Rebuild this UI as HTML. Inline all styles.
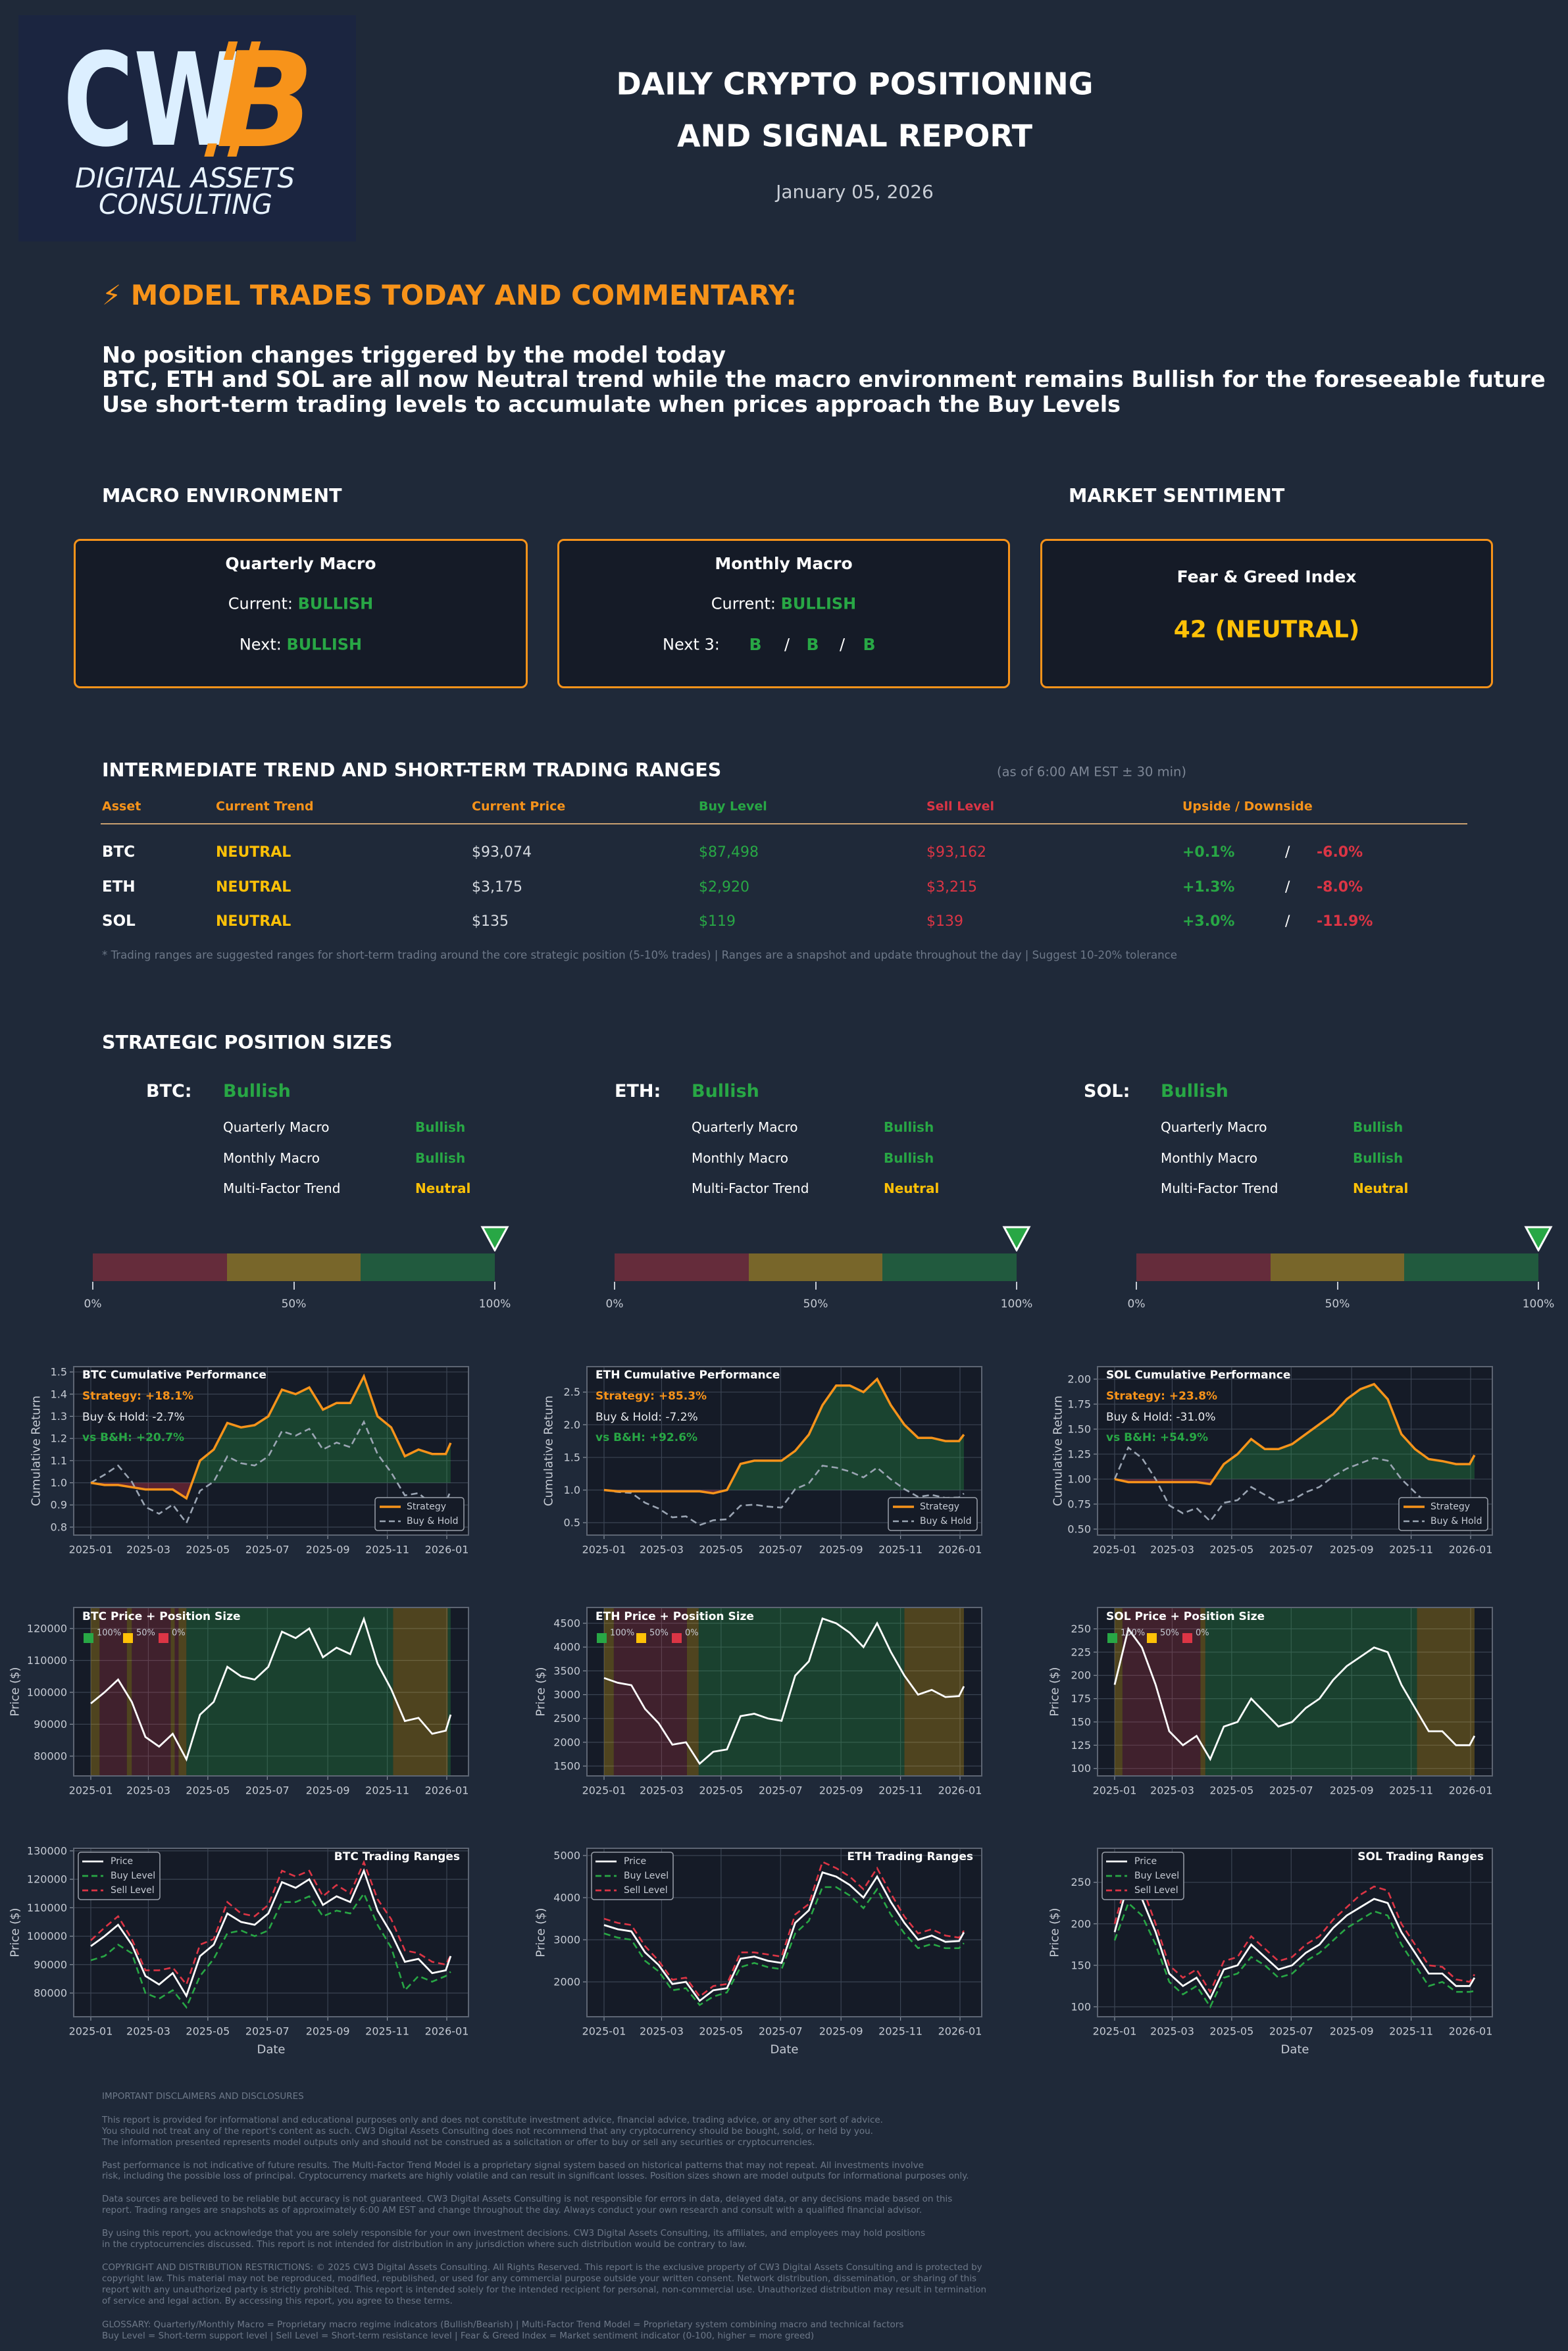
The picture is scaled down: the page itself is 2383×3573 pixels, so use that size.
<!DOCTYPE html>
<html><head><meta charset="utf-8">
<style>
html,body{margin:0;padding:0}
body{width:2383px;height:3573px;background:#1f2939;position:relative;overflow:hidden;font-family:"DejaVu Sans","Liberation Sans",sans-serif;color:#fff}
.t{position:absolute;white-space:nowrap;transform:translateY(-50%);line-height:1.2}
.c{position:absolute;white-space:nowrap;transform:translate(-50%,-50%);line-height:1.2}
.b{font-weight:bold}
.g{color:#28a745}.y{color:#ffc107}.o{color:#f7931a}.r{color:#dc3545}
.box{position:absolute;border:3px solid #f7931a;border-radius:10px;background:#151b27;box-sizing:border-box}
.disc{position:absolute;left:155px;font-size:13.5px;color:#6d7888;white-space:nowrap;transform:translateY(-50%)}
</style></head>
<body>

<svg width="513" height="344" style="position:absolute;left:28px;top:23px" xmlns="http://www.w3.org/2000/svg">
  <rect x="0" y="0" width="513" height="344" fill="#1b2540"/>
  <text x="68" y="197" font-family="DejaVu Sans, sans-serif" font-weight="bold" font-size="195" fill="#dcefff" textLength="268" lengthAdjust="spacingAndGlyphs">CW</text>
  <rect x="330" y="40" width="14" height="28" fill="#f7931a" transform="skewX(-15)"/>
  <rect x="365" y="40" width="14" height="28" fill="#f7931a" transform="skewX(-15)"/>
  <rect x="340" y="195" width="14" height="20" fill="#f7931a" transform="skewX(-15)"/>
  <rect x="375" y="195" width="14" height="20" fill="#f7931a" transform="skewX(-15)"/>
  <text x="300" y="199" font-family="DejaVu Sans, sans-serif" font-weight="bold" font-style="italic" font-size="200" fill="#f7931a" textLength="150" lengthAdjust="spacingAndGlyphs">B</text>
  <text x="86" y="262" font-family="DejaVu Sans, sans-serif" font-style="italic" font-size="42" fill="#e8f3ff" textLength="334" lengthAdjust="spacingAndGlyphs">DIGITAL ASSETS</text>
  <text x="122" y="302" font-family="DejaVu Sans, sans-serif" font-style="italic" font-size="42" fill="#e8f3ff" textLength="264" lengthAdjust="spacingAndGlyphs">CONSULTING</text>
</svg>

<div class="c b" style="left:1299px;top:128px;font-size:46px">DAILY CRYPTO POSITIONING</div>
<div class="c b" style="left:1299px;top:207px;font-size:46px">AND SIGNAL REPORT</div>
<div class="c" style="left:1299px;top:292px;font-size:28px;color:#c9ced6">January 05, 2026</div>

<div class="t b o" style="left:155px;top:449px;font-size:41.7px">⚡ MODEL TRADES TODAY AND COMMENTARY:</div>
<div class="t b" style="left:155px;top:540px;font-size:33.4px">No position changes triggered by the model today</div>
<div class="t b" style="left:155px;top:577px;font-size:33.4px">BTC, ETH and SOL are all now Neutral trend while the macro environment remains Bullish for the foreseeable future</div>
<div class="t b" style="left:155px;top:615px;font-size:33.4px">Use short-term trading levels to accumulate when prices approach the Buy Levels</div>

<div class="t b" style="left:155px;top:754px;font-size:28.5px">MACRO ENVIRONMENT</div>
<div class="t b" style="left:1624px;top:754px;font-size:28.5px">MARKET SENTIMENT</div>

<div class="box" style="left:112px;top:819px;width:690px;height:227px"></div>
<div class="c b" style="left:457px;top:857px;font-size:25px">Quarterly Macro</div>
<div class="c" style="left:457px;top:918px;font-size:24px">Current: <span class="b g">BULLISH</span></div>
<div class="c" style="left:457px;top:980px;font-size:24px">Next: <span class="b g">BULLISH</span></div>

<div class="box" style="left:847px;top:819px;width:688px;height:227px"></div>
<div class="c b" style="left:1191px;top:857px;font-size:25px">Monthly Macro</div>
<div class="c" style="left:1191px;top:918px;font-size:24px">Current: <span class="b g">BULLISH</span></div>
<div class="t" style="left:1007px;top:980px;font-size:24px">Next 3:</div>
<div class="c b g" style="left:1148px;top:980px;font-size:25px">B</div>
<div class="c" style="left:1196px;top:980px;font-size:24px">/</div>
<div class="c b g" style="left:1235px;top:980px;font-size:25px">B</div>
<div class="c" style="left:1280px;top:980px;font-size:24px">/</div>
<div class="c b g" style="left:1321px;top:980px;font-size:25px">B</div>

<div class="box" style="left:1581px;top:819px;width:688px;height:227px"></div>
<div class="c b" style="left:1925px;top:877px;font-size:25px">Fear &amp; Greed Index</div>
<div class="c b y" style="left:1925px;top:957px;font-size:36px">42 (NEUTRAL)</div>

<div class="t b" style="left:155px;top:1171px;font-size:28.5px">INTERMEDIATE TREND AND SHORT-TERM TRADING RANGES</div>
<div class="t" style="left:1515px;top:1173px;font-size:19.5px;color:#7d8695">(as of 6:00 AM EST ± 30 min)</div>

<div class="t b o" style="left:155px;top:1226px;font-size:19px">Asset</div>
<div class="t b o" style="left:328px;top:1226px;font-size:19px">Current Trend</div>
<div class="t b o" style="left:717px;top:1226px;font-size:19px">Current Price</div>
<div class="t b g" style="left:1062px;top:1226px;font-size:19px">Buy Level</div>
<div class="t b r" style="left:1408px;top:1226px;font-size:19px">Sell Level</div>
<div class="t b o" style="left:1797px;top:1226px;font-size:19px">Upside / Downside</div>
<div style="position:absolute;left:153px;top:1251px;width:2077px;height:2px;background:#c9a070"></div>

<div>
<div class="t b" style="left:155px;top:1296px;font-size:23px">BTC</div>
<div class="t b y" style="left:328px;top:1296px;font-size:22px">NEUTRAL</div>
<div class="t" style="left:717px;top:1296px;font-size:22px;color:#d6dae0">$93,074</div>
<div class="t g" style="left:1062px;top:1296px;font-size:22px">$87,498</div>
<div class="t r" style="left:1408px;top:1296px;font-size:22px">$93,162</div>
<div class="t b g" style="left:1797px;top:1296px;font-size:22px">+0.1%</div>
<div class="t" style="left:1953px;top:1296px;font-size:22px">/</div>
<div class="t b r" style="left:2001px;top:1296px;font-size:22px">-6.0%</div>
</div>
<div>
<div class="t b" style="left:155px;top:1349px;font-size:23px">ETH</div>
<div class="t b y" style="left:328px;top:1349px;font-size:22px">NEUTRAL</div>
<div class="t" style="left:717px;top:1349px;font-size:22px;color:#d6dae0">$3,175</div>
<div class="t g" style="left:1062px;top:1349px;font-size:22px">$2,920</div>
<div class="t r" style="left:1408px;top:1349px;font-size:22px">$3,215</div>
<div class="t b g" style="left:1797px;top:1349px;font-size:22px">+1.3%</div>
<div class="t" style="left:1953px;top:1349px;font-size:22px">/</div>
<div class="t b r" style="left:2001px;top:1349px;font-size:22px">-8.0%</div>
</div>
<div>
<div class="t b" style="left:155px;top:1401px;font-size:23px">SOL</div>
<div class="t b y" style="left:328px;top:1401px;font-size:22px">NEUTRAL</div>
<div class="t" style="left:717px;top:1401px;font-size:22px;color:#d6dae0">$135</div>
<div class="t g" style="left:1062px;top:1401px;font-size:22px">$119</div>
<div class="t r" style="left:1408px;top:1401px;font-size:22px">$139</div>
<div class="t b g" style="left:1797px;top:1401px;font-size:22px">+3.0%</div>
<div class="t" style="left:1953px;top:1401px;font-size:22px">/</div>
<div class="t b r" style="left:2001px;top:1401px;font-size:22px">-11.9%</div>
</div>
<div class="t" style="left:155px;top:1452px;font-size:16.6px;color:#6d7888">* Trading ranges are suggested ranges for short-term trading around the core strategic position (5-10% trades)  |  Ranges are a snapshot and update throughout the day  |  Suggest 10-20% tolerance</div>

<div class="t b" style="left:155px;top:1585px;font-size:28.5px">STRATEGIC POSITION SIZES</div>

<div id="positions"></div>

<svg id="charts" width="2383" height="3573" style="position:absolute;left:0;top:0" xmlns="http://www.w3.org/2000/svg"></svg>

<div>
<div class="disc" style="top:3186px">IMPORTANT DISCLAIMERS AND DISCLOSURES</div>
<div class="disc" style="top:3222px">This report is provided for informational and educational purposes only and does not constitute investment advice, financial advice, trading advice, or any other sort of advice.</div>
<div class="disc" style="top:3239px">You should not treat any of the report's content as such. CW3 Digital Assets Consulting does not recommend that any cryptocurrency should be bought, sold, or held by you.</div>
<div class="disc" style="top:3256px">The information presented represents model outputs only and should not be construed as a solicitation or offer to buy or sell any securities or cryptocurrencies.</div>
<div class="disc" style="top:3291px">Past performance is not indicative of future results. The Multi-Factor Trend Model is a proprietary signal system based on historical patterns that may not repeat. All investments involve</div>
<div class="disc" style="top:3307px">risk, including the possible loss of principal. Cryptocurrency markets are highly volatile and can result in significant losses. Position sizes shown are model outputs for informational purposes only.</div>
<div class="disc" style="top:3342px">Data sources are believed to be reliable but accuracy is not guaranteed. CW3 Digital Assets Consulting is not responsible for errors in data, delayed data, or any decisions made based on this</div>
<div class="disc" style="top:3359px">report. Trading ranges are snapshots as of approximately 6:00 AM EST and change throughout the day. Always conduct your own research and consult with a qualified financial advisor.</div>
<div class="disc" style="top:3394px">By using this report, you acknowledge that you are solely responsible for your own investment decisions. CW3 Digital Assets Consulting, its affiliates, and employees may hold positions</div>
<div class="disc" style="top:3411px">in the cryptocurrencies discussed. This report is not intended for distribution in any jurisdiction where such distribution would be contrary to law.</div>
<div class="disc" style="top:3446px">COPYRIGHT AND DISTRIBUTION RESTRICTIONS: © 2025 CW3 Digital Assets Consulting. All Rights Reserved. This report is the exclusive property of CW3 Digital Assets Consulting and is protected by</div>
<div class="disc" style="top:3463px">copyright law. This material may not be reproduced, modified, republished, or used for any commercial purpose outside your written consent. Network distribution, dissemination, or sharing of this</div>
<div class="disc" style="top:3480px">report with any unauthorized party is strictly prohibited. This report is intended solely for the intended recipient for personal, non-commercial use. Unauthorized distribution may result in termination</div>
<div class="disc" style="top:3497px">of service and legal action. By accessing this report, you agree to these terms.</div>
<div class="disc" style="top:3533px">GLOSSARY: Quarterly/Monthly Macro = Proprietary macro regime indicators (Bullish/Bearish) | Multi-Factor Trend Model = Proprietary system combining macro and technical factors</div>
<div class="disc" style="top:3550px">Buy Level = Short-term support level | Sell Level = Short-term resistance level | Fear &amp; Greed Index = Market sentiment indicator (0-100, higher = more greed)</div>
</div>

<script>
// ---- data ----
const days = [0,14,28,42,56,70,84,98,112,126,140,154,168,182,196,210,224,238,252,266,280,294,308,322,336,350,364,369];
const xTickLabels = ['2025-01','2025-03','2025-05','2025-07','2025-09','2025-11','2026-01'];
const xTickDays = [0,59,120,181,243,304,365];

const btcPrice = [96500,100000,104000,97000,86000,83000,87000,79000,93000,97000,108000,105000,104000,108000,119000,117000,120000,111000,114000,112000,123000,109000,101000,91000,92000,87000,88000,93000];
const btcBuy = [91500,93000,97000,94000,80000,78000,81000,75000,86000,92000,101000,102000,100000,102000,112000,112000,114000,107000,109000,108000,115000,104000,96000,81000,86000,84000,86000,87500];
const btcSell = [98500,103000,107000,99000,88000,88000,89000,83000,97000,99000,112000,108000,107000,111000,123000,121000,123000,114000,118000,115000,126000,113000,106000,95000,94000,91000,90000,93200];
const btcStrategy = [1.0,0.99,0.99,0.98,0.97,0.97,0.97,0.93,1.10,1.15,1.27,1.25,1.26,1.30,1.42,1.40,1.43,1.33,1.36,1.36,1.48,1.30,1.25,1.12,1.15,1.13,1.13,1.18];

const ethPrice = [3350,3250,3200,2700,2400,1950,2000,1550,1800,1850,2550,2600,2500,2450,3400,3700,4600,4500,4300,4000,4500,3900,3400,3000,3100,2950,2970,3175];
const ethBuy = [3150,3050,3000,2500,2250,1800,1850,1450,1650,1750,2350,2450,2350,2300,3150,3450,4250,4250,4050,3750,4200,3600,3150,2800,2900,2800,2800,2920];
const ethSell = [3500,3400,3350,2850,2500,2050,2100,1650,1900,1950,2700,2700,2650,2600,3600,3850,4850,4700,4500,4200,4700,4100,3550,3150,3250,3100,3050,3215];
const ethStrategy = [1.0,0.98,0.98,0.98,0.98,0.98,0.98,0.98,0.95,1.0,1.4,1.45,1.45,1.45,1.6,1.85,2.3,2.6,2.6,2.5,2.7,2.3,2.0,1.8,1.8,1.75,1.75,1.85];

const solPrice = [190,250,230,190,140,125,135,110,145,150,175,160,145,150,165,175,195,210,220,230,225,190,165,140,140,125,125,135];
const solBuy = [180,225,210,175,130,115,125,100,135,140,160,150,135,140,155,165,180,195,205,215,210,175,150,125,130,118,118,119];
const solSell = [200,260,245,200,150,135,145,118,155,160,185,170,155,160,175,185,205,220,235,245,240,200,175,150,148,133,130,139];
const solStrategy = [1.0,0.97,0.97,0.97,0.97,0.97,0.97,0.95,1.15,1.25,1.40,1.30,1.30,1.35,1.45,1.55,1.65,1.80,1.90,1.95,1.80,1.45,1.30,1.20,1.18,1.15,1.15,1.24];

const btcRegionStart = [0,9,37,42,82,86,90,98,310,366];
const btcRegionEnd   = [9,37,42,82,86,90,98,310,366,369];
const btcRegionState = ['y','r','y','r','y','r','y','g','y','g'];
const ethRegionStart = [0,10,85,97,308];
const ethRegionEnd   = [10,85,97,308,369];
const ethRegionState = ['y','r','y','g','y'];
const solRegionStart = [0,8,88,93,310];
const solRegionEnd   = [8,88,93,310,369];
const solRegionState = ['y','r','y','g','y'];

const btcCumTicks = [0.8,0.9,1.0,1.1,1.2,1.3,1.4,1.5];
const ethCumTicks = [0.5,1.0,1.5,2.0,2.5];
const solCumTicks = [0.50,0.75,1.00,1.25,1.50,1.75,2.00];
const btcPriceTicks = [80000,90000,100000,110000,120000];
const ethPriceTicks = [1500,2000,2500,3000,3500,4000,4500];
const solPriceTicks = [100,125,150,175,200,225,250];
const btcRangeTicks = [80000,90000,100000,110000,120000,130000];
const ethRangeTicks = [2000,3000,4000,5000];
const solRangeTicks = [100,150,200,250];

const assetNames = ['BTC','ETH','SOL'];
const strategyLabels = ['Strategy: +18.1%','Strategy: +85.3%','Strategy: +23.8%'];
const bhLabels = ['Buy & Hold: -2.7%','Buy & Hold: -7.2%','Buy & Hold: -31.0%'];
const vsLabels = ['vs B&H: +20.7%','vs B&H: +92.6%','vs B&H: +54.9%'];
const gaugeValues = [100,100,100];

// ---- layout ----
const assets = [
 {name:'BTC',x0:112,lblX:[55,23,23],price:btcPrice,buy:btcBuy,sell:btcSell,strat:btcStrategy,rs:btcRegionStart,re:btcRegionEnd,rst:btcRegionState,
  cum:[0.764,1.524,btcCumTicks],pr:[73800,126600,btcPriceTicks],tr:[71670,130900,btcRangeTicks]},
 {name:'ETH',x0:892,lblX:[834,822,822],price:ethPrice,buy:ethBuy,sell:ethSell,strat:ethStrategy,rs:ethRegionStart,re:ethRegionEnd,rst:ethRegionState,
  cum:[0.31,2.89,ethCumTicks],pr:[1293,4832,ethPriceTicks],tr:[1172,5172,ethRangeTicks]},
 {name:'SOL',x0:1668,lblX:[1608,1603,1603],price:solPrice,buy:solBuy,sell:solSell,strat:solStrategy,rs:solRegionStart,re:solRegionEnd,rst:solRegionState,
  cum:[0.44,2.125,solCumTicks],pr:[92,273,solPriceTicks],tr:[88,291,solRangeTicks]}
];
const PW=600, PH=256, ROWS=[2077,2443,2809];
const NS='http://www.w3.org/2000/svg';
const svg=document.getElementById('charts');
function mk(tag,parent){const e=document.createElementNS(NS,tag);parent.appendChild(e);return e;}
function at(e,o){for(const k in o)e.setAttribute(k,o[k]);return e;}
function txt(parent,x,y,s,size,fill,anchor,weight){const t=mk('text',parent);at(t,{x:x,y:y,'font-size':size,fill:fill,'text-anchor':anchor||'start','dominant-baseline':'central','font-family':'DejaVu Sans, Liberation Sans, sans-serif','font-weight':weight||'normal'});t.textContent=s;return t;}
function colorOf(s){return s==='g'?'rgba(40,167,69,0.28)':s==='r'?'rgba(220,53,69,0.22)':'rgba(255,193,7,0.25)';}

let clipId=0;
function frame(a,row,ymin,ymax,ticks,ylabel,xlabel){
  const x0=a.x0,y0=ROWS[row];
  const g=mk('g',svg);
  const xs=d=>x0+26+d*541/365;
  const ys=v=>y0+PH-(v-ymin)/(ymax-ymin)*PH;
  const bg=mk('rect',g);at(bg,{x:x0,y:y0,width:PW,height:PH,fill:'#151b27'});
  
  
  xTickDays.forEach((d,i)=>{
    const l=mk('line',g);at(l,{x1:xs(d),x2:xs(d),y1:y0,y2:y0+PH,stroke:'#3b4453','stroke-width':1.2});
    
    
    const tk=mk('line',g);at(tk,{x1:xs(d),x2:xs(d),y1:y0+PH,y2:y0+PH+6,stroke:'#8a929e','stroke-width':1.2});
    const t=txt(g,xs(d),y0+PH+22,xTickLabels[i],16,'#c5cad3','middle');
    
    
  });
  ticks.forEach(v=>{
    const l=mk('line',g);at(l,{x1:x0,x2:x0+PW,y1:ys(v),y2:ys(v),stroke:'#3b4453','stroke-width':1.2});
    
    
    const tk=mk('line',g);at(tk,{x1:x0-6,x2:x0,y1:ys(v),y2:ys(v),stroke:'#8a929e','stroke-width':1.2});
    const lbl=(ticks===btcCumTicks||ticks===ethCumTicks)?v.toFixed(1):(ticks===solCumTicks?v.toFixed(2):String(v));
    const t=txt(g,x0-10,ys(v),lbl,16,'#c5cad3','end');
    
    
  });
  const yl=txt(g,0,0,ylabel,18,'#c5cad3','middle');
  at(yl,{transform:`translate(${a.lblX[row]},${y0+PH/2}) rotate(-90)`});
  
  
  if(xlabel){const xl=txt(g,x0+PW/2,y0+PH+50,xlabel,18,'#c5cad3','middle');
    
    }
  const cid='clip'+(clipId++);
  const cp=mk('clipPath',g);cp.setAttribute('id',cid);
  at(mk('rect',cp),{x:x0,y:y0,width:PW,height:PH});
  const inner=mk('g',g);inner.setAttribute('clip-path',`url(#${cid})`);
  return {g,inner,xs,ys,x0,y0,border:()=>{const b=mk('rect',g);at(b,{x:x0,y:y0,width:PW,height:PH,fill:'none',stroke:'#5d6573','stroke-width':2});}};
}
function pathD(xs,ys,vals){return vals.map((v,i)=>(i?'L':'M')+xs(days[i]).toFixed(1)+','+ys(v).toFixed(1)).join(' ');}

assets.forEach((a,ai)=>{
  const f=frame(a,0,a.cum[0],a.cum[1],a.cum[2],'Cumulative Return');
  const bh=a.price.map(p=>p/a.price[0]);
  const base=f.ys(1);
  const area='M'+f.xs(days[0])+','+base+' '+pathD(f.xs,f.ys,a.strat).replace('M','L')+' L'+f.xs(days[days.length-1])+','+base+' Z';
  ['up','down'].forEach(k=>{
    const cid='clip'+(clipId++);
    const cp=mk('clipPath',f.inner);cp.setAttribute('id',cid);
    at(mk('rect',cp),k==='up'?{x:f.x0,y:f.y0,width:PW,height:base-f.y0}:{x:f.x0,y:base,width:PW,height:f.y0+PH-base});
    const p=mk('path',f.inner);at(p,{d:area,fill:k==='up'?'rgba(40,167,69,0.3)':'rgba(220,53,69,0.35)','clip-path':`url(#${cid})`});
    
    
  });
  const bhp=mk('path',f.inner);at(bhp,{d:pathD(f.xs,f.ys,bh),fill:'none',stroke:'#9ba5b3','stroke-width':2.6,'stroke-dasharray':'10,6'});
  
  
  const sp=mk('path',f.inner);at(sp,{d:pathD(f.xs,f.ys,a.strat),fill:'none',stroke:'#f7931a','stroke-width':3.5});
  
  
  f.border();
  let t=txt(f.g,f.x0+13,f.y0+13,a.name+' Cumulative Performance',17,'#fff','start','bold');
  
  
  t=txt(f.g,f.x0+13,f.y0+45,strategyLabels[ai],17,'#f7931a','start','bold');
  
  
  t=txt(f.g,f.x0+13,f.y0+77,bhLabels[ai],17,'#e8eaee','start');
  
  
  t=txt(f.g,f.x0+13,f.y0+108,vsLabels[ai],17,'#28a745','start','bold');
  
  
  const lg=mk('g',f.g);
  
  
  at(mk('rect',lg),{x:f.x0+458,y:f.y0+199,width:135,height:50,rx:4,fill:'#151b27',stroke:'#9aa0aa','stroke-width':1.5});
  at(mk('line',lg),{x1:f.x0+465,x2:f.x0+497,y1:f.y0+213,y2:f.y0+213,stroke:'#f7931a','stroke-width':3.5});
  at(mk('line',lg),{x1:f.x0+465,x2:f.x0+497,y1:f.y0+235,y2:f.y0+235,stroke:'#9ba5b3','stroke-width':2.6,'stroke-dasharray':'9,5'});
  txt(lg,f.x0+506,f.y0+213,'Strategy',14,'#c5cad3');
  txt(lg,f.x0+506,f.y0+235,'Buy & Hold',14,'#c5cad3');

  const p=frame(a,1,a.pr[0],a.pr[1],a.pr[2],'Price ($)');
  a.rs.forEach((s,i)=>{
    const r=mk('rect',p.inner);at(r,{x:p.xs(s),y:p.y0,width:p.xs(a.re[i])-p.xs(s),height:PH,fill:colorOf(a.rst[i])});
    
    
  });
  const pl=mk('path',p.inner);at(pl,{d:pathD(p.xs,p.ys,a.price),fill:'none',stroke:'#fff','stroke-width':2.8});
  
  
  p.border();
  t=txt(p.g,p.x0+13,p.y0+14,a.name+' Price + Position Size',17,'#fff','start','bold');
  
  
  const pk=mk('g',p.g);
  
  
  [['#28a745','100%',15],['#ffc107','50%',75],['#dc3545','0%',129]].forEach(q=>{
    at(mk('rect',pk),{x:p.x0+q[2],y:p.y0+39,width:15,height:15,fill:q[0]});
    txt(pk,p.x0+q[2]+20,p.y0+39,q[1],13,'#c5cad3');
  });

  const r=frame(a,2,a.tr[0],a.tr[1],a.tr[2],'Price ($)','Date');
  const bl=mk('path',r.inner);at(bl,{d:pathD(r.xs,r.ys,a.buy),fill:'none',stroke:'#28a745','stroke-width':2.6,'stroke-dasharray':'10,6'});
  
  
  const sl=mk('path',r.inner);at(sl,{d:pathD(r.xs,r.ys,a.sell),fill:'none',stroke:'#dc3545','stroke-width':2.6,'stroke-dasharray':'10,6'});
  
  
  const rp=mk('path',r.inner);at(rp,{d:pathD(r.xs,r.ys,a.price),fill:'none',stroke:'#fff','stroke-width':2.8});
  
  
  r.border();
  t=txt(r.g,r.x0+PW-13,r.y0+13,a.name+' Trading Ranges',17,'#fff','end','bold');
  
  
  const tl=mk('g',r.g);
  
  
  at(mk('rect',tl),{x:r.x0+7,y:r.y0+6,width:124,height:72,rx:4,fill:'#151b27',stroke:'#9aa0aa','stroke-width':1.5});
  [['#fff','Price',null,20],['#28a745','Buy Level','9,5',42],['#dc3545','Sell Level','9,5',64]].forEach(q=>{
    const ln=mk('line',tl);at(ln,{x1:r.x0+13,x2:r.x0+45,y1:r.y0+q[3],y2:r.y0+q[3],stroke:q[0],'stroke-width':2.8});
    if(q[2])ln.setAttribute('stroke-dasharray',q[2]);
    txt(tl,r.x0+56,r.y0+q[3],q[1],14,'#c5cad3');
  });
});

const pos=document.getElementById('positions');
const panelX=[222,934,1647];
const gaugeX=[141,934,1727];
function div(parent,cls,style,html){const d=document.createElement('div');d.className=cls;d.setAttribute('style',style);d.innerHTML=html;parent.appendChild(d);return d;}
assetNames.forEach((n,i)=>{
  const px=panelX[i], lx=px+117, vx=px+409;
  const wrap=document.createElement('div');pos.appendChild(wrap);
  
  
  div(wrap,'t b',`left:${px}px;top:1659px;font-size:27px`,n+':');
  div(wrap,'t b g',`left:${lx}px;top:1659px;font-size:27px`,'Bullish');
  [['Quarterly Macro','Bullish','g',1713],['Monthly Macro','Bullish','g',1760],['Multi-Factor Trend','Neutral','y',1806]].forEach(q=>{
    div(wrap,'t',`left:${lx}px;top:${q[3]}px;font-size:20px`,q[0]);
    div(wrap,'t b '+q[2],`left:${vx}px;top:${q[3]}px;font-size:20px`,q[1]);
  });
  const gx=gaugeX[i], gw=611;
  const gauge=document.createElement('div');wrap.appendChild(gauge);
  
  
  gauge.setAttribute('style',`position:absolute;left:${gx}px;top:1905px;width:${gw}px;height:42px;display:flex`);
  ['#652c3b','#78662a','#215a3e'].forEach(c=>{const s=document.createElement('div');s.setAttribute('style',`flex:1;background:${c}`);gauge.appendChild(s);});
  [0,50,100].forEach(v=>{
    const x=gx+v/100*gw;
    div(wrap,'',`position:absolute;left:${x-1}px;top:1948px;width:2px;height:12px;background:#c5cad3`,'');
    div(wrap,'c',`left:${x}px;top:1982px;font-size:17px;color:#c5cad3`,v+'%');
  });
  const mx=gx+gaugeValues[i]/100*gw;
  const tri=document.createElementNS(NS,'svg');
  tri.setAttribute('width','44');tri.setAttribute('height','40');
  tri.setAttribute('style',`position:absolute;left:${mx-22}px;top:1862px`);
  
  
  const pg=document.createElementNS(NS,'polygon');
  at(pg,{points:'3,3 41,3 22,38',fill:'#28a745',stroke:'#fff','stroke-width':3});
  tri.appendChild(pg);wrap.appendChild(tri);
});
</script>
</body></html>
